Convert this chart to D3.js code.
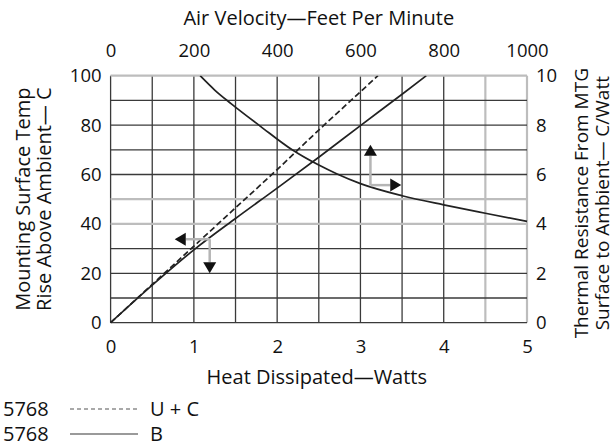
<!DOCTYPE html>
<html>
<head>
<meta charset="utf-8">
<script src="https://cdn.jsdelivr.net/npm/d3@7"></script>
<style>
  body { margin: 0; background: #fff; }
  svg text { font-family: "Open Sans", "Noto Sans", sans-serif; fill: #111; }
</style>
</head>
<body>
<div id="chart"></div>
<script>
"use strict";

// Data
const wattTicks = [0, 1, 2, 3, 4, 5];
const fpmTicks = [0, 200, 400, 600, 800, 1000];
const tempTicks = [0, 20, 40, 60, 80, 100];
const resTicks = [0, 2, 4, 6, 8, 10];

// temperature rise (C) vs heat dissipated (W)
const ucWatts = [0, 0.5, 1, 1.5, 2, 2.5, 3, 3.21];
const ucTemp = [0, 15.5, 31, 46.5, 62, 78, 93.5, 100];
const bWatts = [0, 0.5, 1, 1.5, 2, 2.5, 3, 3.5, 3.79];
const bTemp = [0, 15.2, 29.5, 42.2, 54.5, 67, 79.8, 92.5, 100];

// thermal resistance (C/W) vs air velocity (ft/min)
const airFpm = [215, 250, 290, 360, 436, 500, 544, 600, 700, 800, 900, 1000];
const airRes = [10, 9.42, 8.86, 7.95, 7.0, 6.38, 6.02, 5.63, 5.14, 4.77, 4.43, 4.1];

// guide arrows: [fromX, fromY] -> [toX, toY] in watts / C
const arrowFrom = [[1.19, 33.8], [1.19, 33.8], [3.12, 55.7], [3.12, 55.7]];
const arrowTo = [[0.77, 33.8], [1.19, 20], [3.12, 72], [3.49, 55.7]];

const legendIds = ["5768", "5768"];
const legendNames = ["U + C", "B"];

const W = 615, H = 446;
const plot = { left: 110.6, right: 527, top: 75.7, bottom: 322.7 };

const svg = d3.select("#chart").append("svg")
    .attr("width", W)
    .attr("height", H);

const x = d3.scaleLinear().domain([0, 5]).range([plot.left, plot.right]);
const xTop = d3.scaleLinear().domain([0, 1000]).range([plot.left, plot.right]);
const y = d3.scaleLinear().domain([0, 100]).range([plot.bottom, plot.top]);
const yRight = d3.scaleLinear().domain([0, 10]).range([plot.bottom, plot.top]);

// Grid (a few lines in the scan come out light grey)
const lightV = [4.5, 5];
const lightH = [40, 50, 100];
const grid = svg.append("g");
d3.range(0, 5.01, 0.5).forEach(v => {
    const light = lightV.some(l => Math.abs(l - v) < 1e-6);
    grid.append("line")
        .attr("x1", x(v)).attr("x2", x(v))
        .attr("y1", y(0)).attr("y2", y(100))
        .attr("stroke", light ? "#bdbdbd" : "#3a3a3a")
        .attr("stroke-width", light ? 2.2 : 1.3);
});
d3.range(0, 100.1, 10).forEach(v => {
    const light = lightH.some(l => Math.abs(l - v) < 1e-6);
    grid.append("line")
        .attr("x1", x(0)).attr("x2", x(5))
        .attr("y1", y(v)).attr("y2", y(v))
        .attr("stroke", light ? "#bdbdbd" : "#3a3a3a")
        .attr("stroke-width", light ? 2.2 : 1.3);
});

// Axes (labels only)
const tickFont = 18.5;
const fmt = d3.format("d");
function styleAxis(g) {
    g.select(".domain").remove();
    g.selectAll(".tick line").remove();
    g.selectAll("text")
        .attr("font-size", tickFont)
        .attr("font-family", null);
}
svg.append("g")
    .attr("transform", `translate(0,${plot.bottom})`)
    .call(d3.axisBottom(x).tickValues(wattTicks).tickFormat(fmt).tickSize(0).tickPadding(17))
    .call(styleAxis);
svg.append("g")
    .attr("transform", `translate(0,${plot.top})`)
    .call(d3.axisTop(xTop).tickValues(fpmTicks).tickFormat(fmt).tickSize(0).tickPadding(19))
    .call(styleAxis);
svg.append("g")
    .attr("transform", `translate(${plot.left},0)`)
    .call(d3.axisLeft(y).tickValues(tempTicks).tickFormat(fmt).tickSize(0).tickPadding(9))
    .call(styleAxis);
svg.append("g")
    .attr("transform", `translate(${plot.right},0)`)
    .call(d3.axisRight(yRight).tickValues(resTicks).tickFormat(fmt).tickSize(0).tickPadding(9))
    .call(styleAxis);

// Titles
const titleFont = 20;
svg.append("text")
    .attr("x", (plot.left + plot.right) / 2).attr("y", 25)
    .attr("text-anchor", "middle").attr("font-size", titleFont)
    .text("Air Velocity\u2014Feet Per Minute");
svg.append("text")
    .attr("x", (plot.left + plot.right) / 2 - 2).attr("y", 384)
    .attr("text-anchor", "middle").attr("font-size", titleFont)
    .text("Heat Dissipated\u2014Watts");

const midY = (plot.top + plot.bottom) / 2;
[["Mounting Surface Temp", 30], ["Rise Above Ambient\u2014 C", 51]].forEach(([t, cx]) => {
    svg.append("text")
        .attr("transform", `translate(${cx},${midY}) rotate(-90)`)
        .attr("text-anchor", "middle").attr("font-size", titleFont)
        .text(t);
});
[["Thermal Resistance From MTG", 588], ["Surface to Ambient\u2014 C/Watt", 609]].forEach(([t, cx]) => {
    svg.append("text")
        .attr("transform", `translate(${cx},${midY + 4}) rotate(-90)`)
        .attr("text-anchor", "middle").attr("font-size", 19)
        .text(t);
});

// Curves
svg.append("clipPath").attr("id", "plotClip")
    .append("rect")
    .attr("x", plot.left - 2).attr("y", plot.top)
    .attr("width", plot.right - plot.left + 4).attr("height", plot.bottom - plot.top + 2);

const tempLine = d3.line()
    .x(d => x(d[0]))
    .y(d => y(d[1]))
    .curve(d3.curveMonotoneX);
const airLine = d3.line()
    .x(d => xTop(d[0]))
    .y(d => yRight(d[1]))
    .curve(d3.curveMonotoneX);

const curves = svg.append("g").attr("clip-path", "url(#plotClip)");
curves.append("path")
    .datum(d3.zip(ucWatts, ucTemp))
    .attr("d", tempLine)
    .attr("fill", "none").attr("stroke", "#222")
    .attr("stroke-width", 1.7).attr("stroke-dasharray", "6,3");
curves.append("path")
    .datum(d3.zip(bWatts, bTemp))
    .attr("d", tempLine)
    .attr("fill", "none").attr("stroke", "#222").attr("stroke-width", 1.7);
curves.append("path")
    .datum(d3.zip(airFpm, airRes))
    .attr("d", airLine)
    .attr("fill", "none").attr("stroke", "#222").attr("stroke-width", 1.7);

// Arrows
const arrows = svg.append("g");
arrowFrom.forEach((f, i) => {
    const t = arrowTo[i];
    const x1 = x(f[0]), y1 = y(f[1]), x2 = x(t[0]), y2 = y(t[1]);
    const len = Math.hypot(x2 - x1, y2 - y1);
    const ux = (x2 - x1) / len, uy = (y2 - y1) / len;
    const headLen = 11, headW = 6.5;
    const bx = x2 - ux * headLen, by = y2 - uy * headLen;
    arrows.append("line")
        .attr("x1", x1).attr("y1", y1).attr("x2", bx).attr("y2", by)
        .attr("stroke", "#b5b5b5").attr("stroke-width", 2.5);
    arrows.append("path")
        .attr("d", `M${x2},${y2}L${bx - uy * headW},${by + ux * headW}L${bx + uy * headW},${by - ux * headW}Z`)
        .attr("fill", "#111");
});

// Legend
const legend = svg.append("g");
legendIds.forEach((id, i) => {
    const ly = 416 + i * 25;
    legend.append("text").attr("x", 3).attr("y", ly)
        .attr("font-size", titleFont).text(id);
    legend.append("line")
        .attr("x1", 70).attr("x2", 138)
        .attr("y1", ly - 7).attr("y2", ly - 7)
        .attr("stroke", i === 0 ? "#555" : "#9a9a9a")
        .attr("stroke-width", i === 0 ? 1.2 : 2.2)
        .attr("stroke-dasharray", i === 0 ? "4,3" : null);
    legend.append("text").attr("x", 150).attr("y", ly)
        .attr("font-size", titleFont).text(legendNames[i]);
});
</script>
</body>
</html>
